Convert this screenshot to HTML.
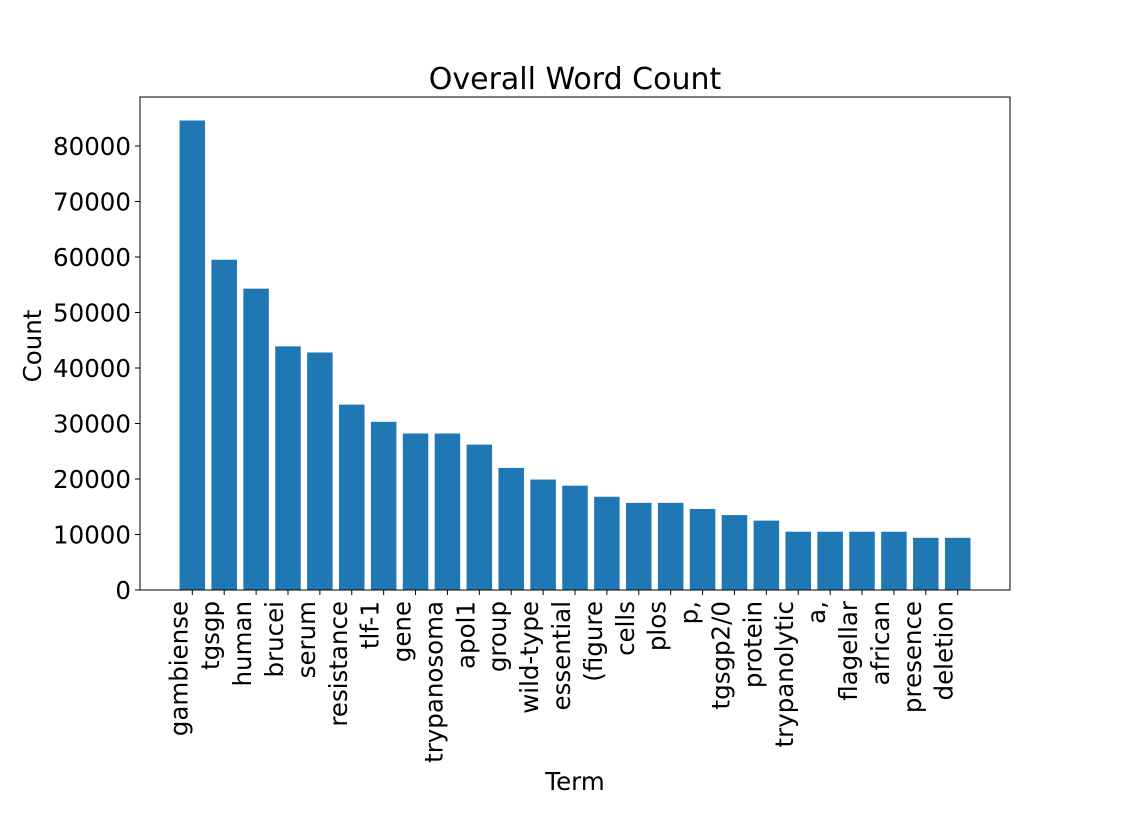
<!DOCTYPE html>
<html><head><meta charset="utf-8"><style>
body{margin:0;background:#fff;}
svg{font-family:"DejaVu Sans","Liberation Sans",sans-serif;}
</style></head><body>
<svg id="chart" width="1122" height="810" xmlns="http://www.w3.org/2000/svg">
<text x="575" y="89" font-size="30" text-anchor="middle">Overall Word Count</text>
<text x="575" y="790" font-size="24.5" text-anchor="middle">Term</text>
<text transform="translate(41,346) rotate(-90)" font-size="24.5" text-anchor="middle">Count</text>
<g id="bars"></g><g id="yt"></g><g id="xt"></g>
<rect x="140" y="97" width="870" height="493" fill="none" stroke="#000" stroke-width="1"/>
</svg>
<script>
const categories=["gambiense","tgsgp","human","brucei","serum","resistance","tlf-1","gene","trypanosoma","apol1","group","wild-type","essential","(figure","cells","plos","p,","tgsgp2/0","protein","trypanolytic","a,","flagellar","african","presence","deletion"];
const counts=[84600,59500,54300,43900,42800,33400,30300,28200,28200,26200,22000,19900,18800,16800,15700,15700,14600,13500,12500,10500,10500,10500,10500,9400,9400];
const yTicks=[0,10000,20000,30000,40000,50000,60000,70000,80000];
const NS="http://www.w3.org/2000/svg";
const L=140,R=1010,T=97,B=590;
const n=categories.length;
const xmin=-0.4-0.05*(n-0.2),xmax=n-0.6+0.05*(n-0.2);
const ymax=Math.max(...counts)*1.05;
const xs=v=>L+(v-xmin)/(xmax-xmin)*(R-L);
const ys=v=>B-v/ymax*(B-T);
const mk=(t,a,p)=>{const e=document.createElementNS(NS,t);for(const k in a)e.setAttribute(k,a[k]);p.appendChild(e);return e;};
const bars=document.getElementById('bars'),yt=document.getElementById('yt'),xt=document.getElementById('xt');
counts.forEach((c,i)=>{
 const r=mk('rect',{x:xs(i-0.4),y:ys(c),width:xs(0.4)-xs(-0.4),height:B-ys(c),fill:'#1f77b4'},bars);
 
 
 const tk=mk('line',{x1:xs(i),x2:xs(i),y1:B,y2:B+5,stroke:'#000'},xt);
 
 
 const tx=mk('text',{transform:`translate(${xs(i)-5},${B+11}) rotate(-90)`,'font-size':24.5,'text-anchor':'end'},xt);
 tx.textContent=categories[i];
 
 
});
yTicks.forEach(v=>{
 const tk=mk('line',{x1:L-5,x2:L,y1:ys(v),y2:ys(v),stroke:'#000'},yt);
 
 
 const tx=mk('text',{x:L-9,y:ys(v)+9,'font-size':24.5,'text-anchor':'end'},yt);
 tx.textContent=v;
 
 
});
</script>
</body></html>
